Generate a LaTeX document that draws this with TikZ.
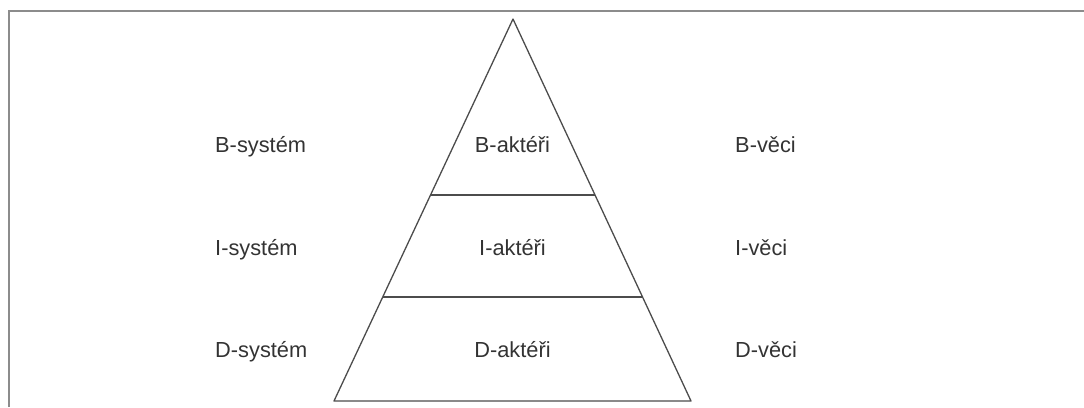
\documentclass[tikz,border=0pt]{standalone}
\usepackage{fontspec}
\setmainfont{Liberation Sans}
\usetikzlibrary{calc}
\begin{document}
\begin{tikzpicture}[x=1pt,y=-1pt,
  frameline/.style={draw=black!45,line width=2pt},
  pyrline/.style={draw=black!70,line width=1.3pt,line join=round},
  lbl/.style={inner sep=0pt,text=black!80,font=\fontsize{21.8}{26}\selectfont}]
\useasboundingbox (0,0) rectangle (1084,407);
% outer frame (open to the right and bottom)
\draw[frameline] (8.5,407) -- (8.5,11) -- (1084,11);
% pyramid
\coordinate (apex) at (513,19);
\coordinate (bl) at (334,401);
\coordinate (br) at (691,401);
\draw[pyrline] (apex) -- (br) -- (bl) -- cycle;
\coordinate (l1) at ($(apex)!0.4607!(bl)$);
\coordinate (r1) at ($(apex)!0.4607!(br)$);
\coordinate (l2) at ($(apex)!0.7277!(bl)$);
\coordinate (r2) at ($(apex)!0.7277!(br)$);
\draw[pyrline] (l1) -- (r1);
\draw[pyrline] (l2) -- (r2);
% labels
\node[lbl,anchor=base west] (bs) at (215,152) {B-systém};
\node[lbl,anchor=base west] (is) at (215,255) {I-systém};
\node[lbl,anchor=base west] (ds) at (215,357) {D-systém};
\node[lbl,anchor=base] (ba) at (512.5,152) {B-aktéři};
\node[lbl,anchor=base] (ia) at (512.5,255) {I-aktéři};
\node[lbl,anchor=base] (da) at (512.5,357) {D-aktéři};
\node[lbl,anchor=base west] (bv) at (735,152) {B-věci};
\node[lbl,anchor=base west] (iv) at (735,255) {I-věci};
\node[lbl,anchor=base west] (dv) at (735,357) {D-věci};
\end{tikzpicture}
\end{document}
